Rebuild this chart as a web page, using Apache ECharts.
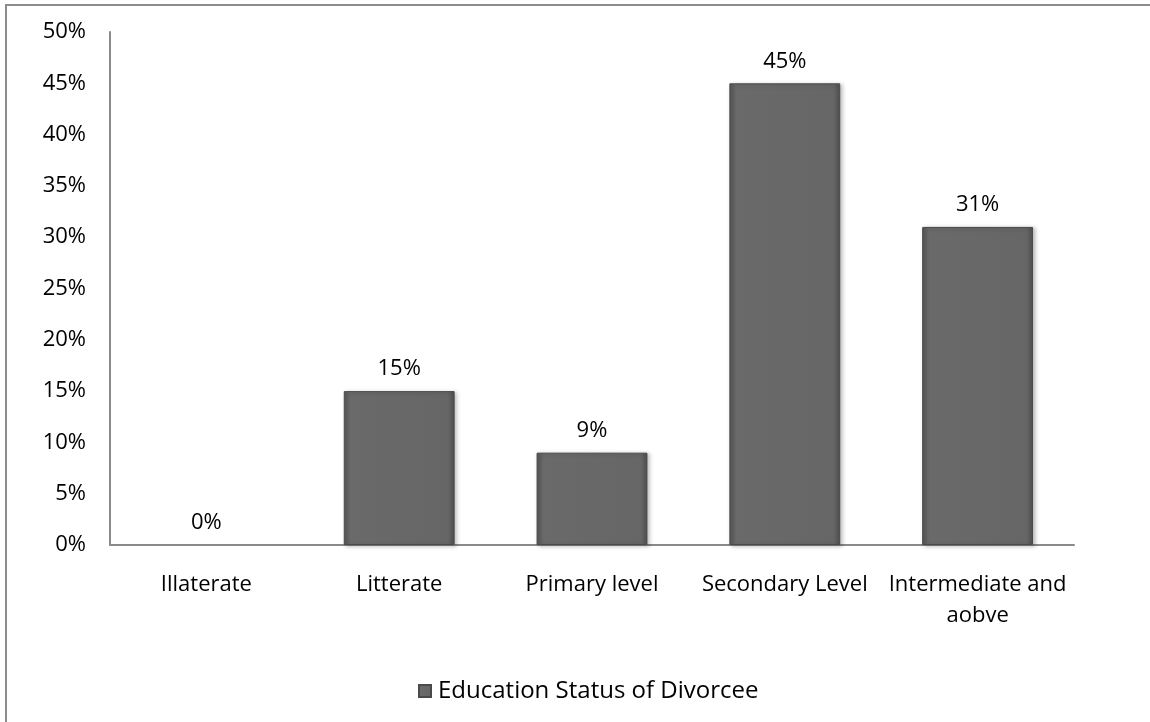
<!DOCTYPE html>
<html>
<head>
<meta charset="utf-8">
<script src="https://cdn.jsdelivr.net/npm/echarts@6/dist/echarts.min.js"></script>
<style>
  html, body { margin: 0; padding: 0; background: #fff; }
  #chart { width: 1150px; height: 722px; }
</style>
</head>
<body>
<div id="chart"></div>
<script>
const categories = ['Illaterate', 'Litterate', 'Primary level', 'Secondary Level', 'Intermediate and aobve'];
const values = [0, 15, 9, 45, 31];
const seriesName = 'Education Status of Divorcee';

const chart = echarts.init(document.getElementById('chart'));
const font = '"Open Sans", sans-serif';

// bar fill with a soft bevel look
const barFill = new echarts.graphic.LinearGradient(0, 0, 1, 0, [
    { offset: 0, color: '#555' },
    { offset: 0.06, color: '#6a6a6a' },
    { offset: 0.94, color: '#666' },
    { offset: 1, color: '#4e4e4e' },
]);

// a zero bar draws nothing in the original, only its label
const barData = values.map((v) => (v === 0
    ? { value: v, itemStyle: { borderWidth: 0, shadowBlur: 0, opacity: 0 } }
    : v));

chart.setOption({
    animation: false,
    backgroundColor: '#fff',
    textStyle: { fontFamily: font },
    graphic: [
        {
            type: 'rect',
            shape: { x: 6, y: 5, width: 1300, height: 900 },
            style: { fill: 'none', stroke: '#8c8c8c', lineWidth: 2 },
            silent: true,
        },
    ],
    grid: { left: 110, right: 76, top: 32, bottom: 177 },
    legend: {
        bottom: 14,
        left: 413,
        icon: 'rect',
        itemWidth: 12,
        itemHeight: 12,
        itemGap: 8,
        textStyle: { fontSize: 24, color: '#000', fontFamily: font, padding: [0, 0, 0, 2] },
        data: [seriesName],
    },
    xAxis: {
        type: 'category',
        data: categories,
        axisLine: { lineStyle: { color: '#8a8a8a', width: 2 } },
        axisTick: { show: false },
        axisLabel: {
            fontSize: 22,
            color: '#000',
            margin: 24,
            lineHeight: 31,
            interval: 0,
            formatter: (v) => v.replace('and ', 'and\n'),
        },
    },
    yAxis: {
        type: 'value',
        min: 0,
        max: 50,
        interval: 5,
        axisLine: { show: true, lineStyle: { color: '#8a8a8a', width: 2 } },
        axisTick: { show: false },
        splitLine: { show: false },
        axisLabel: {
            fontSize: 22,
            color: '#000',
            margin: 24,
            formatter: '{value}%',
        },
    },
    series: [
        {
            name: seriesName,
            type: 'bar',
            data: barData,
            barWidth: '57.5%',
            itemStyle: {
                color: barFill,
                borderColor: '#4a4a4a',
                borderWidth: 1,
                shadowColor: 'rgba(0,0,0,0.25)',
                shadowBlur: 4,
                shadowOffsetX: 2,
                shadowOffsetY: 1,
            },
            label: {
                show: true,
                position: 'top',
                distance: 11,
                fontSize: 22,
                color: '#000',
                opacity: 1,
                formatter: '{c}%',
            },
        },
    ],
});
</script>
</body>
</html>
